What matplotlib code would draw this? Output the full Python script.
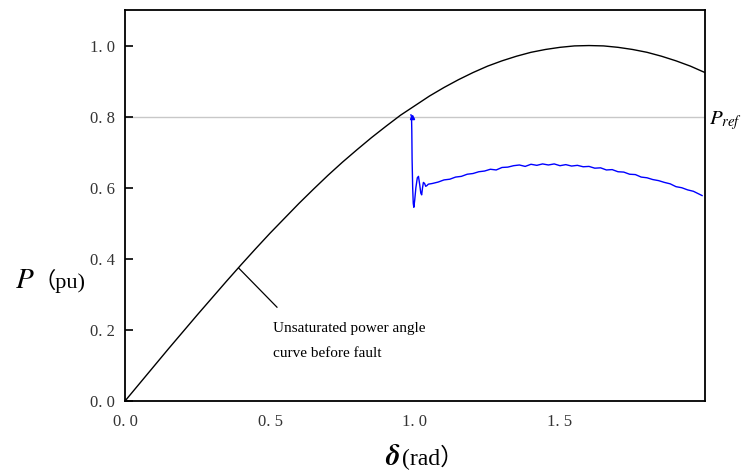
import matplotlib
matplotlib.use("Agg")
import matplotlib.pyplot as plt
import numpy as np

plt.rcParams['mathtext.fontset'] = 'stix'
plt.rcParams['font.family'] = ['Liberation Serif', 'DejaVu Serif']

# unsaturated power angle curve
delta_pre = [0.0, 0.05, 0.1, 0.15, 0.2, 0.25, 0.3, 0.35, 0.4, 0.45, 0.5, 0.55, 0.6, 0.65,
             0.7, 0.75, 0.8, 0.85, 0.9, 0.95, 1.0, 1.05, 1.1, 1.15, 1.2, 1.25, 1.3, 1.35,
             1.4, 1.45, 1.5, 1.55, 1.6, 1.65, 1.7, 1.75, 1.8, 1.85, 1.9, 1.95, 2.0]
p_pre = [0.0, 0.049, 0.098, 0.147, 0.195, 0.243, 0.290, 0.337, 0.383, 0.428, 0.472, 0.514,
         0.556, 0.596, 0.635, 0.672, 0.707, 0.741, 0.773, 0.804, 0.831, 0.858, 0.882, 0.904,
         0.924, 0.942, 0.957, 0.970, 0.981, 0.989, 0.995, 0.999, 1.000, 0.999, 0.995, 0.989,
         0.981, 0.970, 0.957, 0.942, 0.924]

# simulated power after fault (blue)
delta_sim = [0.986, 0.988, 0.989, 0.990, 0.992, 0.994, 0.996, 0.999, 1.003, 1.008, 1.012,
             1.016, 1.020, 1.023, 1.026, 1.029, 1.033, 1.037, 1.041, 1.046,
             1.06, 1.08, 1.10, 1.12, 1.14, 1.16, 1.18, 1.20, 1.22, 1.24, 1.26, 1.28, 1.30,
             1.32, 1.34, 1.36, 1.38, 1.40, 1.42, 1.44, 1.46, 1.48, 1.50, 1.52, 1.54, 1.56,
             1.58, 1.60, 1.62, 1.64, 1.66, 1.68, 1.70, 1.72, 1.74, 1.76, 1.78, 1.80, 1.82,
             1.84, 1.86, 1.88, 1.90, 1.92, 1.94, 1.96, 1.98, 1.99]
p_sim = [0.805, 0.800, 0.760, 0.680, 0.600, 0.556, 0.545, 0.565, 0.600, 0.628, 0.632,
         0.610, 0.585, 0.580, 0.600, 0.615, 0.612, 0.604, 0.606, 0.610,
         0.612, 0.616, 0.622, 0.624, 0.630, 0.632, 0.638, 0.640, 0.645, 0.647, 0.652, 0.650,
         0.657, 0.658, 0.662, 0.664, 0.660, 0.666, 0.663, 0.667, 0.664, 0.667, 0.662, 0.665,
         0.661, 0.663, 0.659, 0.660, 0.655, 0.656, 0.650, 0.651, 0.645, 0.644, 0.638, 0.637,
         0.630, 0.628, 0.623, 0.620, 0.615, 0.611, 0.603, 0.600, 0.594, 0.590, 0.582, 0.578]

p_ref = 0.8
xticks = [0.0, 0.5, 1.0, 1.5]
xlabels = ['0. 0', '0. 5', '1. 0', '1. 5']
yticks = [0.0, 0.2, 0.4, 0.6, 0.8, 1.0]
ylabels = ['0. 0', '0. 2', '0. 4', '0. 6', '0. 8', '1. 0']

fig = plt.figure(figsize=(7.41, 4.72), dpi=100)
ax = fig.add_axes([0.1687, 0.1504, 0.7827, 0.8284])

ax.axhline(p_ref, color='#c8c8c8', lw=1, zorder=1)
ax.plot(delta_pre, p_pre, color='black', lw=1, zorder=2)
ax.plot(delta_sim, p_sim, color='#0000ff', lw=1, zorder=3)
ax.plot([delta_sim[1]], [p_ref], marker='^', ms=3, color='#0000ff', zorder=4)

# annotation for the black curve
ax.plot([0.392, 0.524], [0.374, 0.264], color='black', lw=0.9)
ax.text(0.51, 0.205, 'Unsaturated power angle', fontsize=11, va='center', ha='left')
ax.text(0.51, 0.135, 'curve before fault', fontsize=11, va='center', ha='left')

ax.text(2.015, p_ref - 0.01, r'$P_{ref}$', fontsize=15, va='center', ha='left', clip_on=False)

ax.set_xlim(0, 2.0)
ax.set_ylim(0, 1.1)
ax.set_xticks(xticks)
ax.set_xticklabels(xlabels, fontsize=12, color='#333333')
ax.set_yticks(yticks)
ax.set_yticklabels(ylabels, fontsize=12, color='#333333')
ax.tick_params(axis='y', direction='in', length=6, width=1.2, pad=7)
ax.tick_params(axis='x', length=0, pad=9)
for s in ax.spines.values():
    s.set_linewidth(1.3)

# axis labels: italic symbol + unit with full-width brackets
fig.text(0.020, 0.405, r'$P$', fontsize=21, ha='left', va='center')
fig.text(0.045, 0.405, '（pu)', fontsize=16, ha='left', va='center',
         family=['Liberation Serif', 'Noto Sans CJK SC'])
fig.text(0.520, 0.030, r'$\boldsymbol{\delta}$', fontsize=21, ha='left', va='center')
fig.text(0.542, 0.030, '(rad）', fontsize=17, ha='left', va='center',
         family=['Liberation Serif', 'Noto Sans CJK SC'])

fig.savefig('out.png', dpi=100)
